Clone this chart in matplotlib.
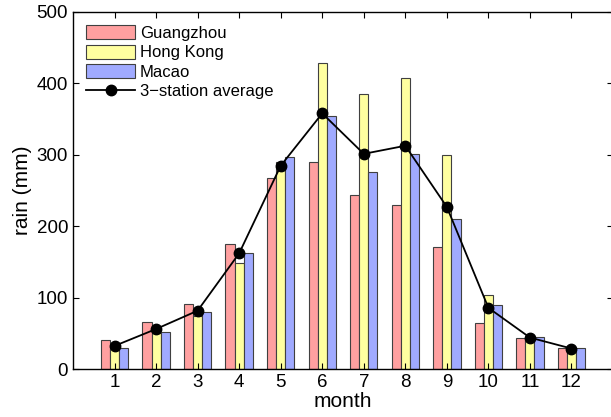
import matplotlib
matplotlib.use("Agg")
import matplotlib.pyplot as plt
import numpy as np

months = [1, 2, 3, 4, 5, 6, 7, 8, 9, 10, 11, 12]
guangzhou = [40, 66, 91, 175, 267, 290, 243, 229, 171, 64, 44, 30]
hongkong = [28, 50, 74, 148, 290, 429, 385, 408, 300, 104, 43, 27]
macao = [29, 52, 80, 163, 297, 355, 276, 301, 210, 89, 45, 29]
avg = [(a + b + c) / 3 for a, b, c in zip(guangzhou, hongkong, macao)]
yticks = [0, 100, 200, 300, 400, 500]

plt.rcParams['font.family'] = ['Liberation Sans', 'DejaVu Sans']

fig = plt.figure(figsize=(6.11, 4.17), dpi=100)
ax = fig.add_axes([73 / 611, 1 - 369 / 417, (613 - 73) / 611, (369 - 12) / 417])

x = np.array(months, dtype=float)
w = 0.22
ec = '#404040'
b1 = ax.bar(x - w, guangzhou, w, color='#ffa0a0', edgecolor=ec, linewidth=0.8, label='Guangzhou')
b2 = ax.bar(x, hongkong, w, color='#ffffa0', edgecolor=ec, linewidth=0.8, label='Hong Kong')
b3 = ax.bar(x + w, macao, w, color='#a0aaff', edgecolor=ec, linewidth=0.8, label='Macao')
l1, = ax.plot(x, avg, color='k', lw=1.3, marker='o', ms=7.5, label='3\u2212station average')

ax.set_xlim(0, 13)
ax.set_ylim(0, 500)
ax.set_xticks(months)
ax.set_yticks(yticks)
ax.tick_params(direction='in', top=True, right=True, labelsize=13.5, length=4)
ax.set_xlabel('month', fontsize=15, labelpad=1)
ax.set_ylabel('rain (mm)', fontsize=15, labelpad=3)
for s in ax.spines.values():
    s.set_linewidth(1.0)

ax.legend([b1, b2, b3, l1], ['Guangzhou', 'Hong Kong', 'Macao', '3\u2212station average'],
          loc='upper left', frameon=False, fontsize=12, handlelength=2.9,
          handleheight=0.9, labelspacing=0.22, borderaxespad=0.5, borderpad=0.3,
          handletextpad=0.3)

fig.savefig('out.png', dpi=100)
